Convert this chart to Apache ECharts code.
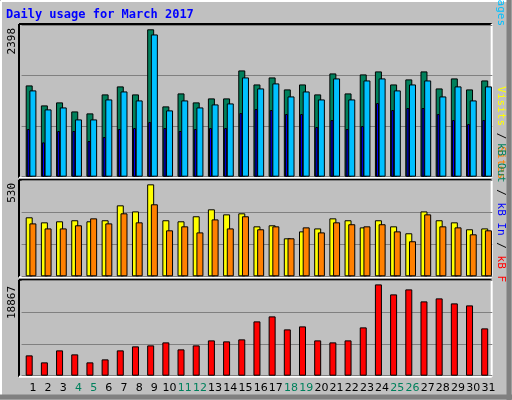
<!DOCTYPE html>
<html><head><meta charset="utf-8">
<script src="https://cdn.jsdelivr.net/npm/echarts@6/dist/echarts.min.js"></script>
<style>html,body{margin:0;padding:0;background:#C0C0C0}#c{width:512px;height:400px}</style>
</head><body><div id="c"></div>
<script>
const days=['1','2','3','4','5','6','7','8','9','10','11','12','13','14','15','16','17','18','19','20','21','22','23','24','25','26','27','28','29','30','31'];
const weekend=['4','5','11','12','18','19','25','26'];
const hits=[1485,1160,1209,1062,1030,1339,1469,1339,2398,1144,1355,1209,1274,1274,1729,1501,1615,1420,1501,1339,1680,1355,1664,1713,1501,1583,1713,1436,1599,1420,1566];
const files=[1404,1095,1127,932,932,1257,1387,1241,2314,1079,1241,1127,1176,1192,1615,1436,1518,1306,1387,1257,1599,1257,1566,1599,1404,1501,1566,1306,1469,1241,1469];
const pages=[775,558,743,743,580,645,775,791,889,791,743,775,791,791,1035,1100,1084,1019,1019,808,921,775,824,1198,1084,1117,1117,1019,921,856,921];
const visits=[340,311,317,323,317,323,409,374,530,323,317,346,386,357,363,288,294,219,259,276,334,323,282,323,288,248,374,323,311,271,276];
const sites=[305,276,276,294,334,305,363,311,415,265,288,253,328,276,346,271,288,219,282,253,311,300,288,300,259,202,357,288,282,242,265];
const kbytes=[4200,2754,5233,4407,2754,3374,5233,6060,6266,6886,5440,6266,7299,7093,7506,11224,12257,9572,10191,7299,6886,7299,9985,18867,16802,17835,15356,15975,14943,14529,9778];
const topMax=2468, midMax=551, botMax=19630;
const W=470.7, L=20;
const offA=1.6, offP=0.7, offB=5.3;
const panels={top:[25,176.7],mid:[180.7,276.3],bot:[280.7,375.7]};
function grid(p,off){return {left:L+off,width:W,top:panels[p][0],height:panels[p][1]-panels[p][0]};}
const grids=[grid('top',offA),grid('top',offP),grid('top',offB),grid('mid',offA),grid('mid',offB),grid('bot',offA),grid('bot',offB)];
grids.forEach(g=>{g.show=false;});
const maxes=[topMax,topMax,topMax,midMax,midMax,botMax,botMax];
const gridLineOn=[true,false,false,true,false,true,false];
const xAxis=grids.map((g,i)=>({type:'category',gridIndex:i,data:days,axisLine:{show:false},axisTick:{show:false},
  axisLabel:{show:i===6,margin:7,interval:0,fontFamily:'DejaVu Sans',fontSize:11,
   formatter:v=>weekend.includes(v)?'{w|'+v+'}':'{n|'+v+'}',
   rich:{w:{color:'#00805C',fontFamily:'DejaVu Sans',fontSize:11},n:{color:'#000',fontFamily:'DejaVu Sans',fontSize:11}}}}));
const yAxis=grids.map((g,i)=>({type:'value',gridIndex:i,min:0,max:maxes[i],interval:maxes[i]/3,axisLabel:{show:false},
  axisLine:{show:false},axisTick:{show:false},splitLine:{show:gridLineOn[i],lineStyle:{color:'#808080',width:1}}}));
function bar(data,i,color,w){return {type:'bar',xAxisIndex:i,yAxisIndex:i,data:data,barWidth:w,silent:true,
  itemStyle:{color:color,borderColor:'#000',borderWidth:1}};}
const series=[bar(hits,0,'#00805C',7),bar(pages,1,'#0000FF',3),bar(files,2,'#00C0FF',7),
  bar(visits,3,'#FFFF00',7),bar(sites,4,'#FF8000',7),bar(kbytes,5,'#FF0000',7)];
const F='DejaVu Sans Mono';
function frame(p){const t=panels[p][0]-1,b=panels[p][1]+1,l=L-1,r=L+W+1;
 return [{type:'line',shape:{x1:l,y1:t,x2:r,y2:t},style:{stroke:'#000',lineWidth:2}},
  {type:'line',shape:{x1:l,y1:t,x2:l,y2:b},style:{stroke:'#000',lineWidth:2}},
  {type:'line',shape:{x1:l,y1:b,x2:r,y2:b},style:{stroke:'#fff',lineWidth:2}},
  {type:'line',shape:{x1:r,y1:t,x2:r,y2:b},style:{stroke:'#fff',lineWidth:2}}];}
function vtext(x,y,text,rich){return {type:'text',x:x,y:y,rotation:Math.PI/2,style:{text:text,rich:rich,fontFamily:F,fontSize:11,align:'right',verticalAlign:'top',fill:'#000'}};}
const graphic=[
 {type:'rect',shape:{x:0,y:0,width:512,height:400},style:{fill:'#C0C0C0'},z:-10},
 {type:'line',shape:{x1:1,y1:1,x2:510,y2:1},style:{stroke:'#fff',lineWidth:2}},
 {type:'line',shape:{x1:1,y1:1,x2:1,y2:398},style:{stroke:'#fff',lineWidth:2}},
 {type:'line',shape:{x1:0,y1:397,x2:512,y2:397},style:{stroke:'#808080',lineWidth:5}},
 {type:'line',shape:{x1:509,y1:0,x2:509,y2:400},style:{stroke:'#808080',lineWidth:5}},
 ...frame('top'),...frame('mid'),...frame('bot'),
 {type:'text',x:6,y:9,style:{text:'Daily usage for March 2017',fontFamily:F,fontWeight:'bold',fontSize:12,fill:'#0000FF'}},
 vtext(7,28,'2398',{}),vtext(7,183,'530',{}),vtext(7,286,'18867',{}),
 {type:'text',x:506,y:26,rotation:-Math.PI/2,style:{text:'{h|Hits}{s| / }{f|Files}{s| / }{p|Pages}',fontFamily:F,fontSize:11,align:'right',verticalAlign:'top',
   rich:{h:{fill:'#00805C',fontFamily:F,fontSize:11},f:{fill:'#0000FF',fontFamily:F,fontSize:11},p:{fill:'#00C0FF',fontFamily:F,fontSize:11},s:{fill:'#000',fontFamily:F,fontSize:11}}}},
 {type:'text',x:506,y:179,rotation:-Math.PI/2,style:{text:'{v|Visits}{s| / }{t|Sites}',fontFamily:F,fontSize:11,align:'right',verticalAlign:'top',
   rich:{v:{fill:'#FFFF00',fontFamily:F,fontSize:11},t:{fill:'#FF8000',fontFamily:F,fontSize:11},s:{fill:'#000',fontFamily:F,fontSize:11}}}},
 {type:'text',x:506,y:282,rotation:-Math.PI/2,style:{text:'{o|kB Out}{s| / }{i|kB In}{s| / }{k|kB F}',fontFamily:F,fontSize:11,align:'right',verticalAlign:'top',
   rich:{o:{fill:'#00805C',fontFamily:F,fontSize:11},i:{fill:'#0000FF',fontFamily:F,fontSize:11},k:{fill:'#FF0000',fontFamily:F,fontSize:11},s:{fill:'#000',fontFamily:F,fontSize:11}}}}
];
const chart=echarts.init(document.getElementById('c'),null,{renderer:'canvas'});
chart.setOption({animation:false,backgroundColor:'#C0C0C0',grid:grids,xAxis:xAxis,yAxis:yAxis,series:series,graphic:graphic});
</script></body></html>
